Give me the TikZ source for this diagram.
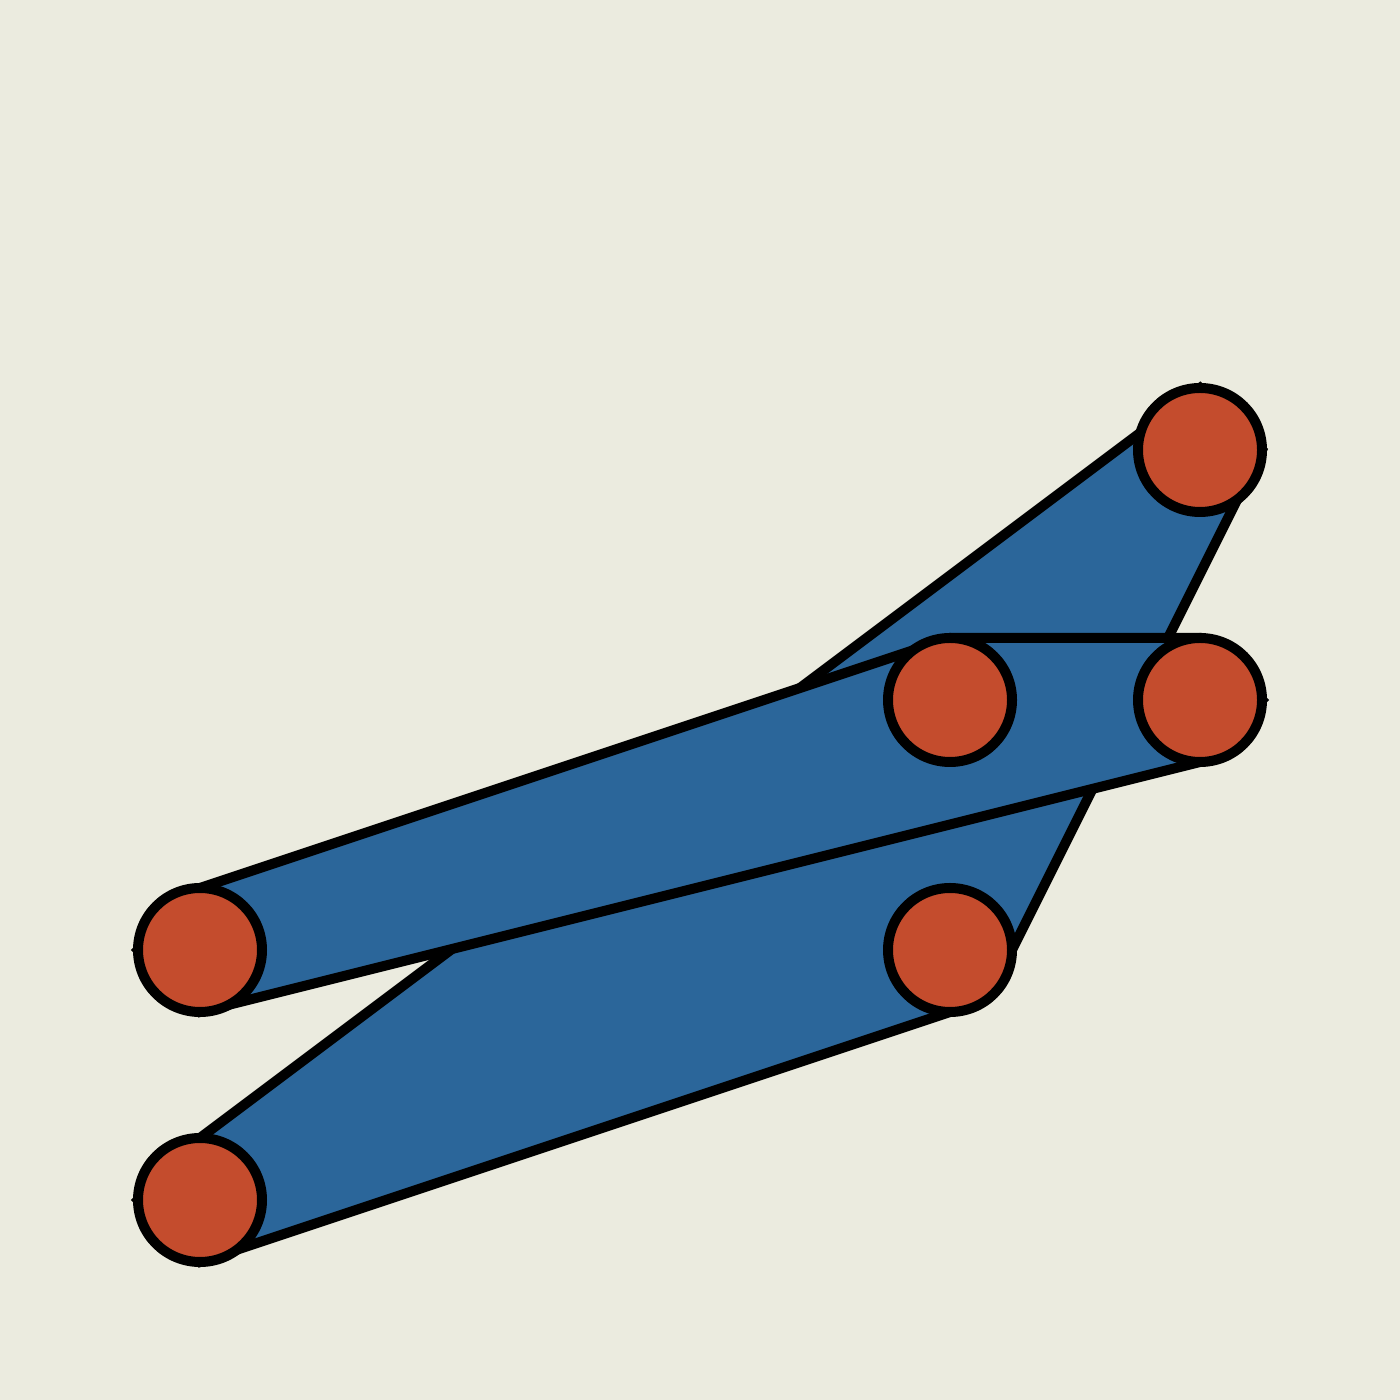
\documentclass[tikz,border=0pt]{standalone}
\usepackage{tikz}
\definecolor{paper}{HTML}{EBEBDF}
\definecolor{bandblue}{HTML}{2B669A}
\definecolor{dotred}{HTML}{C44C2D}

\begin{document}
\begin{tikzpicture}[line width=0.1cm,
  spot/.style = {circle, inner sep=0pt, outer sep=0pt, minimum size=1.24cm},
  dot/.style = {spot, draw, fill=dotred},
  band/.style = {draw=black, fill=bandblue}]
\fill[paper] (0,0) rectangle (14,14);
\useasboundingbox (0,0) rectangle (14,14);
\node[spot] (a) at (2,2) {};
\node[spot] (b) at (9.5,4.5) {};
\node[spot] (c) at (12,9.5) {};
\node[spot] (d) at (9.5,7) {};
\node[spot] (e) at (12,7) {};
\node[spot] (f) at (2,4.5) {};
% lower band
\draw[band] (a.west) -- (a.south) -- (b.south) -- (b.east) -- (c.east) -- (c.north) -- (a.north) -- cycle;
% upper band
\draw[band] (d.north) -- (e.north) -- (e.east) -- (e.south) -- (f.south) -- (f.west) -- (f.north) -- cycle;
\foreach \n in {a,...,f}
  \node[dot] at (\n) {};
\end{tikzpicture}
\end{document}
